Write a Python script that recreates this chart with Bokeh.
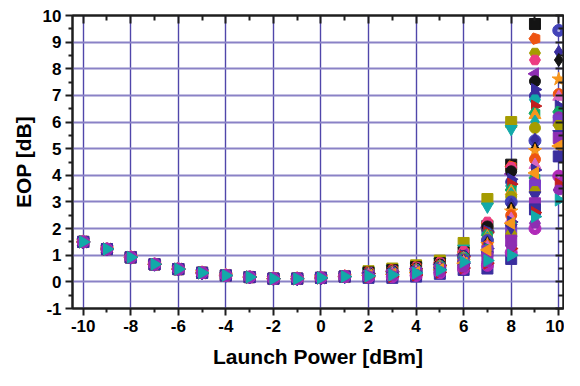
import math
from bokeh.plotting import figure
from bokeh.models import Range1d, FixedTicker, LinearAxis, CustomJSTickFormatter
from bokeh.embed import file_html
from bokeh.resources import INLINE

nan = float("nan")

# Launch power [dBm]
x_low = [-10, -9, -8, -7, -6, -5, -4, -3, -2, -1, 0, 1]
x_high = [2, 3, 4, 5, 6, 7, 8, 9, 10]

# common EOP values at low launch powers (all curves overlap)
eop_low = [1.50, 1.23, 0.92, 0.66, 0.48, 0.34, 0.24, 0.18, 0.12, 0.12, 0.15, 0.20]

# EOP per series at launch powers 2..10 dBm (36 series)
eop_p2 = [0.40, 0.38, 0.35, 0.36, 0.34, 0.35, 0.33, 0.32, 0.31, 0.30, 0.30, 0.31, 0.29, 0.29, 0.28, 0.28, 0.27, 0.27,
          0.26, 0.26, 0.25, 0.25, 0.24, 0.24, 0.23, 0.23, 0.22, 0.22, 0.22, 0.21, 0.24, 0.15, 0.18, 0.19, 0.20, 0.22]
eop_p3 = [0.50, 0.48, 0.44, 0.45, 0.42, 0.44, 0.40, 0.40, 0.38, 0.37, 0.37, 0.38, 0.35, 0.35, 0.34, 0.34, 0.33, 0.32,
          0.32, 0.31, 0.30, 0.29, 0.29, 0.28, 0.27, 0.27, 0.26, 0.26, 0.25, 0.24, 0.28, 0.15, 0.19, 0.20, 0.22, 0.26]
eop_p4 = [0.62, 0.58, 0.55, 0.56, 0.52, 0.55, 0.50, 0.50, 0.48, 0.46, 0.46, 0.47, 0.44, 0.44, 0.42, 0.42, 0.41, 0.40,
          0.40, 0.38, 0.38, 0.36, 0.36, 0.35, 0.34, 0.33, 0.33, 0.32, 0.32, 0.30, 0.35, 0.20, 0.24, 0.26, 0.28, 0.33]
eop_p5 = [0.80, 0.75, 0.70, 0.72, 0.68, 0.72, 0.66, 0.65, 0.62, 0.60, 0.60, 0.62, 0.58, 0.58, 0.56, 0.55, 0.54, 0.52,
          0.52, 0.50, 0.50, 0.48, 0.47, 0.46, 0.45, 0.44, 0.43, 0.42, 0.42, 0.40, 0.46, 0.30, 0.34, 0.36, 0.38, 0.45]
eop_p6 = [1.46, 1.25, 1.10, 1.12, 1.05, 1.15, 1.02, 0.96, 0.98, 0.95, 0.92, 0.94, 0.90, 0.88, 0.86, 0.85, 0.82, 0.82,
          0.80, 0.78, 0.76, 0.74, 0.72, 0.70, 0.68, 0.66, 0.64, 0.62, 0.62, 0.58, 0.70, 0.45, 0.50, 0.52, 0.55, 0.75]
eop_p7 = [3.11, 2.83, 2.10, 2.20, 2.00, 2.25, 2.05, 2.08, 1.90, 1.85, 1.80, 1.85, 1.75, 1.70, 1.65, 1.60, 1.55, 1.55,
          1.50, 1.45, 1.40, 1.35, 1.30, 1.25, 1.20, 1.10, 1.15, 1.05, 1.00, 0.90, 1.20, 0.50, 0.62, 0.70, 0.75, 0.80]
eop_p8 = [6.00, 5.74, 4.40, 4.33, 4.20, 4.30, 4.05, 4.15, 3.85, 3.75, 3.60, 3.67, 3.45, 3.40, 3.30, 3.20, 2.95, 3.00,
          2.90, 2.75, 2.65, 2.50, 2.36, 2.25, 2.10, 1.70, 1.90, 1.80, 2.04, 1.55, 2.20, 0.86, 1.10, 1.25, 1.35, 1.00]
eop_p9 = [nan, nan, 9.68, 9.13, 8.59, 8.33, 7.81, 7.53, 7.22, 6.98, 6.84, 6.60, 6.33, 6.26, 6.02, 5.78, 5.26, 5.30,
          5.34, 5.00, 4.92, 4.60, 4.39, 4.20, 3.90, 3.75, 3.61, 3.40, 3.25, 2.95, 4.09, 2.72, 2.00, 2.60, 2.20, 2.45]
eop_p10 = [nan, nan, nan, nan, nan, nan, nan, nan, nan, nan, nan, nan, nan, nan, nan, nan, nan, 9.44,
           8.63, 8.33, 7.61, 7.05, 6.95, 6.60, 6.38, 6.18, 6.06, 5.88, 5.55, 5.40, 5.10, 4.71, 3.97, 3.67, 3.45, 3.07]

series_markers = ["square", "inverted_triangle", "square", "pentagon", "hex", "hex", "tri_left", "circle", "tri_right",
                  "circle", "hex", "tri_right", "pentagon", "triangle", "diamond", "circle", "diamond", "sphere",
                  "diamond", "diamond", "star", "circle", "triangle", "tri_right", "pentagon", "circle", "square",
                  "hex", "inverted_triangle", "square", "tri_left", "square", "sphere", "tri_right", "hex", "tri_right"]
series_colors = ["#A59C00", "#12A9A9", "#141414", "#EE5412", "#A59C00", "#EC3C82", "#8E2EB2", "#141414", "#3A2E9E",
                 "#3A2E9E", "#12A9A9", "#C21F1F", "#12A866", "#F7961C", "#12A9A9", "#A59C00", "#EC3C82", "#4343B8",
                 "#3A2E9E", "#141414", "#F7961C", "#EE5412", "#D867C0", "#3A2E9E", "#12A866", "#8E2EB2", "#7A3CC6",
                 "#A59C00", "#3A2E9E", "#8E2EB2", "#F7961C", "#3A2E9E", "#B02AB8", "#C21F1F", "#8E2EB2", "#12A9A9"]

x_ticks = [-10, -8, -6, -4, -2, 0, 2, 4, 6, 8, 10]
x_minor = [-9, -7, -5, -3, -1, 1, 3, 5, 7, 9]
y_ticks = [-1, 0, 1, 2, 3, 4, 5, 6, 7, 8, 9, 10]
y_minor = [-0.5, 0.5, 1.5, 2.5, 3.5, 4.5, 5.5, 6.5, 7.5, 8.5, 9.5]

FONT = "Liberation Sans"
AX = "#1e1e1e"

p = figure(width=564, height=370, x_range=Range1d(-10.45, 10.2), y_range=Range1d(-1, 10),
           output_backend="svg", toolbar_location=None,
           min_border_left=72, min_border_right=1, min_border_top=15, min_border_bottom=59)
p.background_fill_color = "white"
p.border_fill_color = "white"
p.outline_line_color = AX
p.outline_line_width = 2

p.xgrid.ticker = FixedTicker(ticks=x_ticks)
p.ygrid.ticker = FixedTicker(ticks=y_ticks)
p.xgrid.grid_line_color = "#5046AA"
p.xgrid.grid_line_width = 1.4
p.ygrid.grid_line_color = "#8A82C6"
p.ygrid.grid_line_width = 1.8


def style_ticks(ax):
    ax.axis_line_color = AX
    ax.axis_line_width = 2
    ax.major_tick_line_color = AX
    ax.major_tick_line_width = 2
    ax.minor_tick_line_color = AX
    ax.minor_tick_line_width = 2


plain = CustomJSTickFormatter(code="return String(tick)")
for ax, tk, mn in ((p.xaxis[0], x_ticks, x_minor), (p.yaxis[0], y_ticks, y_minor)):
    ax.ticker = FixedTicker(ticks=tk, minor_ticks=mn)
    ax.formatter = plain
    style_ticks(ax)
    ax.major_tick_out = 7
    ax.major_tick_in = 0
    ax.minor_tick_out = 4
    ax.minor_tick_in = 0
    ax.major_label_text_font = FONT
    ax.major_label_text_font_style = "bold"
    ax.major_label_text_font_size = "17px"
    ax.major_label_text_color = "black"
    ax.axis_label_text_font = FONT
    ax.axis_label_text_font_style = "bold"
    ax.axis_label_text_font_size = "21px"
    ax.axis_label_text_color = "black"

p.xaxis.axis_label = "Launch Power [dBm]"
p.yaxis.axis_label = "EOP [dB]"
p.xaxis.major_label_standoff = 4
p.xaxis.axis_label_standoff = 10
p.yaxis.major_label_standoff = 4
p.yaxis.axis_label_standoff = 5

blank = CustomJSTickFormatter(code="return ''")
for side, tk, mn in (("above", x_ticks, x_minor), ("right", y_ticks, y_minor)):
    ax = LinearAxis(ticker=FixedTicker(ticks=tk, minor_ticks=mn), formatter=blank)
    style_ticks(ax)
    ax.major_tick_out = 0
    ax.major_tick_in = 8
    ax.minor_tick_out = 0
    ax.minor_tick_in = 5
    ax.major_label_standoff = 0
    p.add_layout(ax, side)

xs = x_low + x_high
cols = [eop_p2, eop_p3, eop_p4, eop_p5, eop_p6, eop_p7, eop_p8, eop_p9, eop_p10]
for i, (mk, col) in enumerate(zip(series_markers, series_colors)):
    ys = eop_low + [c[i] for c in cols]
    if mk == "pentagon":
        p.ngon(x=xs, y=ys, radius=6, radius_units="screen", n=5, angle=math.pi / 2,
               fill_color=col, line_color=col, line_width=1)
    elif mk in ("tri_left", "tri_right"):
        ang = math.pi / 2 if mk == "tri_left" else -math.pi / 2
        p.scatter(x=xs, y=ys, marker="triangle", angle=ang, size=12,
                  fill_color=col, line_color=col, line_width=1)
    elif mk == "sphere":
        p.scatter(x=xs, y=ys, marker="circle", size=12, fill_color=col, line_color=col, line_width=1)
        p.scatter(x=xs, y=ys, marker="circle", size=3, fill_color="white", fill_alpha=0.6, line_color=None)
    else:
        sz = {"star": 14, "diamond": 13, "triangle": 12, "inverted_triangle": 12}.get(mk, 11)
        p.scatter(x=xs, y=ys, marker=mk, size=sz, fill_color=col, line_color=col, line_width=1)

open("out.html", "w").write(file_html(p, INLINE))
